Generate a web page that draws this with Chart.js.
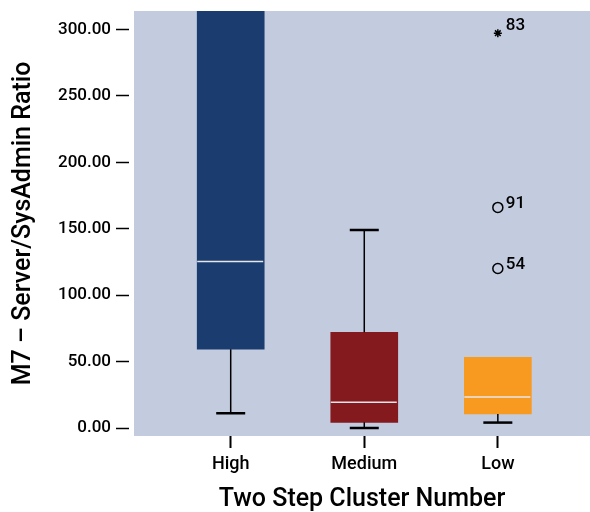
<!DOCTYPE html>
<html>
<head>
<meta charset="utf-8">
<script src="https://cdn.jsdelivr.net/npm/chart.js@4/dist/chart.umd.min.js"></script>
<style>
  html, body { margin: 0; padding: 0; background: #ffffff; }
  #wrap { width: 590px; height: 512px; }
</style>
</head>
<body>
<div id="wrap"><canvas id="c" width="590" height="512"></canvas></div>
<script>
// Cluster categories and box-plot statistics (M7 server / sysadmin ratio)
const categories   = ['High', 'Medium', 'Low'];
const boxColors    = ['#1b3c6e', '#851a1e', '#f89a20'];
const q1Values     = [59.3, 4.3, 10.6];
const medianValues = [125.4, 19.4, 23.4];
const q3Values     = [420, 72.1, 53.3];
const whiskerLow   = [11.1, 0, 4.1];
const whiskerHigh  = [650, 149.2, 53.3];

// Outliers (case number, value) for the Low cluster
const outlierCategory = [2, 2, 2];
const outlierValues   = [120.1, 166.1, 297.3];
const outlierCases    = ['54', '91', '83'];
const outlierStyles   = ['circle', 'circle', 'star'];

const yTickValues = [0, 50, 100, 150, 200, 250, 300];

const FONT = 'Roboto, "DejaVu Sans", sans-serif';

const boxData = categories.map((c, i) => ({ x: i, y: [q1Values[i], q3Values[i]] }));
const outlierData = outlierValues.map((v, i) => ({ x: outlierCategory[i], y: v }));

const plotBackground = {
  id: 'plotBackground',
  beforeDraw(chart) {
    const { ctx, chartArea: a } = chart;
    ctx.save();
    ctx.fillStyle = '#c3cbdf';
    ctx.fillRect(a.left, a.top, a.right - a.left, a.bottom - a.top);
    ctx.restore();
  }
};

// Whiskers, caps and median lines, positioned through the chart scales
const boxParts = {
  id: 'boxParts',
  afterDatasetsDraw(chart) {
    const { ctx, chartArea: a, scales: { x, y } } = chart;
    const barMeta = chart.getDatasetMeta(0);
    ctx.save();
    ctx.beginPath();
    ctx.rect(a.left, a.top, a.right - a.left, a.bottom - a.top);
    ctx.clip();
    categories.forEach((c, i) => {
      const cx = x.getPixelForValue(i);
      const bar = barMeta.data[i];
      const half = bar.width / 2;
      const capHalf = 14.5;
      const yQ1 = y.getPixelForValue(q1Values[i]);
      const yQ3 = y.getPixelForValue(q3Values[i]);
      const yLo = y.getPixelForValue(whiskerLow[i]);
      const yHi = y.getPixelForValue(whiskerHigh[i]);
      ctx.strokeStyle = '#000000';
      ctx.lineWidth = 1.5;
      ctx.beginPath();
      ctx.moveTo(cx, yQ1); ctx.lineTo(cx, yLo);
      if (whiskerHigh[i] > q3Values[i]) { ctx.moveTo(cx, yQ3); ctx.lineTo(cx, yHi); }
      ctx.stroke();
      ctx.lineWidth = 2.5;
      ctx.beginPath();
      ctx.moveTo(cx - capHalf, yLo); ctx.lineTo(cx + capHalf, yLo);
      if (whiskerHigh[i] > q3Values[i]) { ctx.moveTo(cx - capHalf, yHi); ctx.lineTo(cx + capHalf, yHi); }
      ctx.stroke();
      const yMed = y.getPixelForValue(medianValues[i]);
      ctx.strokeStyle = '#e6e6ea';
      ctx.lineWidth = 1.5;
      ctx.beginPath();
      ctx.moveTo(cx - half, yMed); ctx.lineTo(cx + half - 1, yMed);
      ctx.stroke();
    });
    ctx.restore();

    // case numbers beside the outliers
    const ptMeta = chart.getDatasetMeta(1);
    ctx.save();
    ctx.fillStyle = '#000000';
    ctx.font = '500 17px ' + FONT;
    ctx.textAlign = 'left';
    ctx.textBaseline = 'middle';
    ptMeta.data.forEach((pt, i) => {
      const dy = outlierStyles[i] === 'star' ? -7 : -4;
      ctx.fillText(outlierCases[i], pt.x + 8, pt.y + dy);
    });
    ctx.restore();
  }
};

new Chart(document.getElementById('c'), {
  type: 'bar',
  data: {
    datasets: [
      {
        data: boxData,
        backgroundColor: boxColors,
        borderWidth: 0,
        barThickness: 67,
        order: 2
      },
      {
        type: 'scatter',
        data: outlierData,
        pointStyle: outlierStyles,
        pointRadius: [5, 5, 4],
        pointBorderWidth: 1.5,
        borderColor: '#000000',
        backgroundColor: 'rgba(0,0,0,0)',
        order: 1
      }
    ]
  },
  options: {
    responsive: false,
    animation: false,
    layout: { autoPadding: false, padding: { left: 0, right: 0, top: 11, bottom: 0 } },
    plugins: { legend: { display: false }, tooltip: { enabled: false } },
    scales: {
      x: {
        type: 'linear',
        offset: false,
        min: -0.724,
        max: 2.69,
        afterBuildTicks(scale) { scale.ticks = categories.map((c, i) => ({ value: i })); },
        afterFit(scale) { scale.height = 76; scale.paddingLeft = 0; scale.paddingRight = 0; },
        border: { display: false },
        grid: { offset: false, drawOnChartArea: false, tickLength: 12, tickColor: '#000000', tickWidth: 2 },
        ticks: {
          color: '#000000',
          padding: 6,
          font: { family: FONT, size: 18, weight: '500' },
          callback: (v) => categories[v]
        },
        title: {
          display: true,
          text: 'Two Step Cluster Number',
          color: '#000000',
          font: { family: FONT, size: 25, weight: '500', lineHeight: 1 },
          padding: { top: 0, bottom: 0 }
        }
      },
      y: {
        min: -6,
        max: 314,
        afterBuildTicks(scale) { scale.ticks = yTickValues.map(v => ({ value: v })); },
        afterFit(scale) { scale.width = 134; scale.paddingTop = 0; scale.paddingBottom = 0; },
        border: { display: false },
        grid: { drawOnChartArea: false, tickLength: 18, tickColor: '#000000', tickWidth: 1.5, tickBorderDash: [13, 5] },
        ticks: {
          color: '#000000',
          padding: 5,
          font: { family: FONT, size: 17, weight: '500' },
          callback: (v) => Number(v).toFixed(2)
        },
        title: {
          display: true,
          text: 'M7 – Server/SysAdmin Ratio',
          color: '#000000',
          font: { family: FONT, size: 25, weight: '500', lineHeight: 1.2 },
          padding: { top: 9, bottom: 0 }
        }
      }
    }
  },
  plugins: [plotBackground, boxParts]
});
</script>
</body>
</html>
